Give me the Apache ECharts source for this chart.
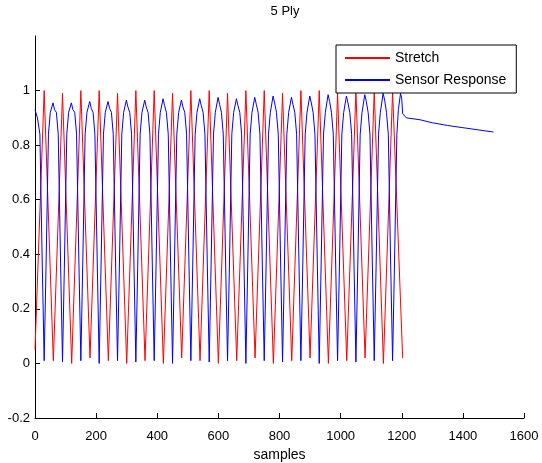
<!DOCTYPE html>
<html>
<head>
<meta charset="utf-8">
<script src="https://cdn.jsdelivr.net/npm/echarts@6/dist/echarts.min.js"></script>
<style>html,body{margin:0;padding:0;background:#fff}#c{width:542px;height:463px}</style>
</head>
<body>
<div id="c"></div>
<script>
var chartTitle = '5 Ply';
var xName = 'samples';
var seriesNames = ['Stretch', 'Sensor Response'];
var xTicks = [0, 200, 400, 600, 800, 1000, 1200, 1400, 1600];
var yTicks = [-0.2, 0, 0.2, 0.4, 0.6, 0.8, 1];

// Stretch: turning points [sample, value]
var stretchPoints = [
  [0,0.05],[30,1.0],[60,0.01],[90,0.99],[120,0.0],[150,1.0],[180,0.02],[210,1.0],[240,0.01],[270,0.99],
  [300,0.0],[330,1.0],[360,0.01],[390,1.0],[420,0.0],[450,0.99],[480,0.02],[510,1.0],[540,0.01],[570,1.0],
  [600,0.0],[630,0.99],[660,0.01],[690,1.0],[720,0.02],[750,1.0],[780,0.0],[810,0.99],[840,0.01],[870,1.0],
  [900,0.02],[930,1.0],[960,0.0],[990,0.99],[1020,0.01],[1050,1.0],[1080,0.02],[1110,1.0],[1140,0.0],[1170,1.0],
  [1203,0.02]
];

// Sensor response: points [sample, value]
var sensorHead = [[0,0.93],[8,0.9],[16,0.84],[24,0.35]];
var sensorCycles = [
  [30,0.01],[36,0.35],[44,0.84],[50,0.92],[59,0.955],[64,0.93],[70,0.92],[76,0.84],[84,0.35],
  [90,0.005],[96,0.35],[104,0.84],[110,0.92],[119,0.955],[124,0.93],[130,0.92],[136,0.84],[144,0.35],
  [150,0.01],[156,0.35],[164,0.84],[170,0.92],[179,0.96],[184,0.935],[190,0.92],[196,0.84],[204,0.35],
  [210,0.0],[216,0.35],[224,0.84],[230,0.92],[239,0.96],[244,0.935],[250,0.92],[256,0.84],[264,0.35],
  [270,0.01],[276,0.35],[284,0.84],[290,0.92],[299,0.965],[304,0.94],[310,0.92],[316,0.84],[324,0.35],
  [330,0.005],[336,0.35],[344,0.84],[350,0.92],[359,0.965],[364,0.94],[370,0.92],[376,0.84],[384,0.35],
  [390,0.01],[396,0.35],[404,0.84],[410,0.92],[419,0.97],[424,0.945],[430,0.92],[436,0.84],[444,0.35],
  [450,0.0],[456,0.35],[464,0.84],[470,0.92],[479,0.965],[484,0.94],[490,0.92],[496,0.84],[504,0.35],
  [510,0.01],[516,0.35],[524,0.84],[530,0.92],[539,0.97],[544,0.945],[550,0.92],[556,0.84],[564,0.35],
  [570,0.005],[576,0.35],[584,0.84],[590,0.92],[599,0.975],[604,0.95],[610,0.92],[616,0.84],[624,0.35],
  [630,0.01],[636,0.35],[644,0.84],[650,0.92],[659,0.97],[664,0.945],[670,0.92],[676,0.84],[684,0.35],
  [690,0.0],[696,0.35],[704,0.84],[710,0.92],[719,0.975],[724,0.95],[730,0.92],[736,0.84],[744,0.35],
  [750,0.01],[756,0.35],[764,0.84],[770,0.92],[779,0.98],[784,0.955],[790,0.92],[796,0.84],[804,0.35],
  [810,0.005],[816,0.35],[824,0.84],[830,0.92],[839,0.975],[844,0.95],[850,0.92],[856,0.84],[864,0.35],
  [870,0.01],[876,0.35],[884,0.84],[890,0.92],[899,0.98],[904,0.955],[910,0.92],[916,0.84],[924,0.35],
  [930,0.0],[936,0.35],[944,0.84],[950,0.92],[959,0.985],[964,0.96],[970,0.92],[976,0.84],[984,0.35],
  [990,0.01],[996,0.35],[1004,0.84],[1010,0.92],[1019,0.98],[1024,0.955],[1030,0.92],[1036,0.84],[1044,0.35],
  [1050,0.005],[1056,0.35],[1064,0.84],[1070,0.92],[1079,0.985],[1084,0.96],[1090,0.92],[1096,0.84],[1104,0.35],
  [1110,0.01],[1116,0.35],[1124,0.84],[1130,0.92],[1139,0.99],[1144,0.965],[1150,0.92],[1156,0.84],[1164,0.35],
  [1170,0.01],[1176,0.35],[1184,0.84],[1189,0.93],[1196,0.99],[1200,0.97],[1203,0.915]
];
var sensorTail = [[1215,0.9],[1260,0.893],[1300,0.882],[1350,0.872],[1400,0.864],[1450,0.856],[1500,0.848]];

var font = 'Liberation Sans, Arial, sans-serif';
var chart = echarts.init(document.getElementById('c'), null, {renderer: 'canvas'});
chart.setOption({
  animation: false,
  backgroundColor: '#fff',
  title: {
    text: chartTitle, left: 280, top: 0, textAlign: 'center',
    textStyle: {fontFamily: font, fontSize: 13, fontWeight: 'normal', color: '#000'}
  },
  legend: {
    orient: 'vertical', left: 336, top: 45,
    backgroundColor: '#fff', borderColor: '#000', borderWidth: 1,
    padding: [6, 10, 6, 8], itemGap: 8, itemWidth: 45, itemHeight: 14,
    itemStyle: {opacity: 0},
    textStyle: {fontFamily: font, fontSize: 14, color: '#000'},
    data: seriesNames
  },
  grid: {left: 35, right: 18, top: 36, bottom: 45, containLabel: false, outerBoundsMode: 'none'},
  xAxis: {
    type: 'value', min: 0, max: 1600, interval: 200,
    name: xName, nameLocation: 'middle', nameGap: 28,
    nameTextStyle: {fontFamily: font, fontSize: 14, color: '#000'},
    axisLine: {onZero: false, lineStyle: {color: '#000', width: 1}},
    axisTick: {inside: true, length: 5, lineStyle: {color: '#000'}, customValues: xTicks},
    axisLabel: {fontFamily: font, fontSize: 13, color: '#000', margin: 12, customValues: xTicks,
      formatter: function (v) { return String(v); }},
    splitLine: {show: false}
  },
  yAxis: {
    type: 'value', min: -0.2, max: 1.2, interval: 0.2,
    axisLine: {show: true, onZero: false, lineStyle: {color: '#000', width: 1}},
    axisTick: {show: true, inside: true, length: 5, lineStyle: {color: '#000'}, customValues: yTicks},
    axisLabel: {fontFamily: font, fontSize: 13, color: '#000', margin: 5, customValues: yTicks,
      formatter: function (v) { return String(Math.round(v * 10) / 10); }},
    splitLine: {show: false}
  },
  series: [
    {name: seriesNames[0], type: 'line', data: stretchPoints, symbol: 'none', showSymbol: false,
     lineStyle: {color: '#ff0000', width: 1}, itemStyle: {color: '#ff0000'}},
    {name: seriesNames[1], type: 'line', data: sensorHead.concat(sensorCycles, sensorTail), symbol: 'none', showSymbol: false,
     lineStyle: {color: '#0000ff', width: 1}, itemStyle: {color: '#0000ff'}}
  ]
});
</script>
</body>
</html>
